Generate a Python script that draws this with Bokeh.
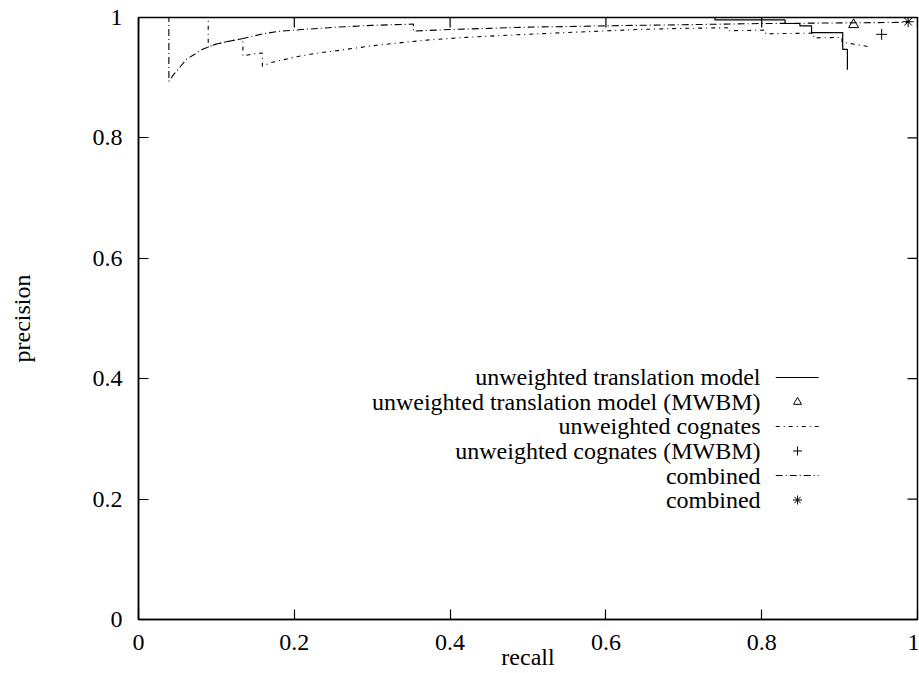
import math

from bokeh.plotting import figure
from bokeh.models import Range1d, FixedTicker, PrintfTickFormatter
from bokeh.core.properties import value
from bokeh.embed import file_html
from bokeh.resources import INLINE

# ---- data -------------------------------------------------------------
# unweighted translation model (precision/recall curve)
trans_recall = [0.0, 0.74, 0.74, 0.83, 0.83, 0.849, 0.849, 0.864, 0.864,
                0.904, 0.904, 0.91, 0.91]
trans_precision = [1.0, 1.0, 0.996, 0.996, 0.99, 0.99, 0.986, 0.986, 0.975,
                   0.975, 0.947, 0.947, 0.913]

# unweighted cognates
cog_recall = [0.0, 0.0895, 0.0895, 0.10, 0.114, 0.134, 0.134, 0.145, 0.159,
              0.159, 0.17, 0.18, 0.20, 0.225, 0.255, 0.30, 0.35, 0.375, 0.42,
              0.48, 0.55, 0.64, 0.70, 0.756, 0.756, 0.805, 0.805, 0.867,
              0.867, 0.903, 0.903, 0.94]
cog_precision = [1.0, 1.0, 0.951, 0.956, 0.960, 0.965, 0.936, 0.939, 0.941,
                 0.919, 0.925, 0.928, 0.934, 0.940, 0.945, 0.953, 0.960,
                 0.963, 0.967, 0.971, 0.975, 0.980, 0.982, 0.983, 0.978,
                 0.979, 0.973, 0.974, 0.966, 0.967, 0.959, 0.951]

# combined
comb_recall = [0.0, 0.039, 0.039, 0.045, 0.054, 0.062, 0.071, 0.08, 0.0895,
               0.10, 0.114, 0.134, 0.16, 0.18, 0.21, 0.255, 0.30, 0.353,
               0.353, 0.40, 0.45, 0.50, 0.55, 0.64, 0.70, 0.80, 0.90, 0.99]
comb_precision = [1.0, 1.0, 0.894, 0.905, 0.919, 0.931, 0.938, 0.946, 0.951,
                  0.956, 0.960, 0.965, 0.973, 0.977, 0.980, 0.984, 0.987,
                  0.989, 0.9775, 0.980, 0.982, 0.984, 0.985, 0.987, 0.988,
                  0.990, 0.991, 0.992]

# single operating points from maximum-weight bipartite matching
trans_mwbm = (0.918, 0.988)
cog_mwbm = (0.954, 0.972)
comb_mwbm = (0.988, 0.993)

tick_values = [0, 0.2, 0.4, 0.6, 0.8, 1]

legend_labels = [
    "unweighted translation model",
    "unweighted translation model (MWBM)",
    "unweighted cognates",
    "unweighted cognates (MWBM)",
    "combined",
    "combined",
]

# ---- figure -----------------------------------------------------------
FONT = "Liberation Serif"
FS = "24px"
TICK_LEN = 10

p = figure(width=919, height=673, x_range=Range1d(0, 1), y_range=Range1d(0, 1),
           output_backend="svg", toolbar_location=None,
           min_border_left=138, min_border_right=2, min_border_top=17,
           min_border_bottom=54)
p.background_fill_color = "white"
p.border_fill_color = "white"
p.xgrid.visible = False
p.ygrid.visible = False
p.outline_line_color = "black"
p.outline_line_width = 1.5
p.outline_line_alpha = 1.0

for ax in (p.xaxis[0], p.yaxis[0]):
    ax.ticker = FixedTicker(ticks=tick_values)
    ax.formatter = PrintfTickFormatter(format="%g")
    ax.major_tick_in = TICK_LEN
    ax.major_tick_out = 0
    ax.minor_tick_line_color = None
    ax.major_tick_line_color = "black"
    ax.major_tick_line_width = 1.2
    ax.axis_line_color = "black"
    ax.axis_line_width = 1.5
    ax.major_label_text_font = FONT
    ax.major_label_text_font_size = FS
    ax.major_label_text_color = "black"
    ax.axis_label_text_font = FONT
    ax.axis_label_text_font_size = FS
    ax.axis_label_text_font_style = "normal"
    ax.axis_label_text_color = "black"

xa = p.xaxis[0]
ya = p.yaxis[0]
xa.axis_label = "recall"
ya.axis_label = "precision"
xa.major_label_standoff = 15
xa.axis_label_standoff = -9
ya.major_label_standoff = 16
ya.axis_label_standoff = 55

# mirrored inward ticks on the top and right edges of the frame
p.ray(x=tick_values, y=[1] * len(tick_values), length=TICK_LEN,
      length_units="screen", angle=-math.pi / 2, line_color="black",
      line_width=1.2)
p.ray(x=[1] * len(tick_values), y=tick_values, length=TICK_LEN,
      length_units="screen", angle=math.pi, line_color="black",
      line_width=1.2)

# ---- curves -----------------------------------------------------------
p.line(trans_recall, trans_precision, line_color="black", line_width=1.2)
p.line(cog_recall, cog_precision, line_color="black", line_width=1.1,
       line_dash="4 4 1 4")
p.line(comb_recall, comb_precision, line_color="black", line_width=1.1,
       line_dash="7 3 1 3")

p.scatter([trans_mwbm[0]], [trans_mwbm[1]], marker="triangle", size=10,
          fill_alpha=0, line_color="black", line_width=1)
p.scatter([cog_mwbm[0]], [cog_mwbm[1]], marker="cross", size=11,
          line_color="black", line_width=1)
p.scatter([comb_mwbm[0]], [comb_mwbm[1]], marker="asterisk", size=11,
          line_color="black", line_width=1)

# ---- key (right-aligned text with samples to its right) ---------------
key_top = 0.402
key_step = 0.0407
key_y = [key_top - i * key_step for i in range(len(legend_labels))]
key_text_x = 0.7985
key_x0, key_x1 = 0.818, 0.873
key_mx = 0.846

p.text(x=[key_text_x] * len(legend_labels), y=key_y, text=legend_labels,
       text_align="right", text_baseline="middle",
       text_font=value(FONT), text_font_size=value(FS), text_color="black")

p.segment(x0=[key_x0], y0=[key_y[0]], x1=[key_x1], y1=[key_y[0]],
          line_color="black", line_width=1.2)
p.segment(x0=[key_x0], y0=[key_y[2]], x1=[key_x1], y1=[key_y[2]],
          line_color="black", line_width=1.1, line_dash="4 4 1 4")
p.segment(x0=[key_x0], y0=[key_y[4]], x1=[key_x1], y1=[key_y[4]],
          line_color="black", line_width=1.1, line_dash="7 3 1 3")
p.scatter([key_mx], [key_y[1]], marker="triangle", size=8, fill_alpha=0,
          line_color="black", line_width=1)
p.scatter([key_mx], [key_y[3]], marker="cross", size=9, line_color="black",
          line_width=1)
p.scatter([key_mx], [key_y[5]], marker="asterisk", size=9, line_color="black",
          line_width=1)

open("out.html", "w").write(file_html(p, INLINE))
